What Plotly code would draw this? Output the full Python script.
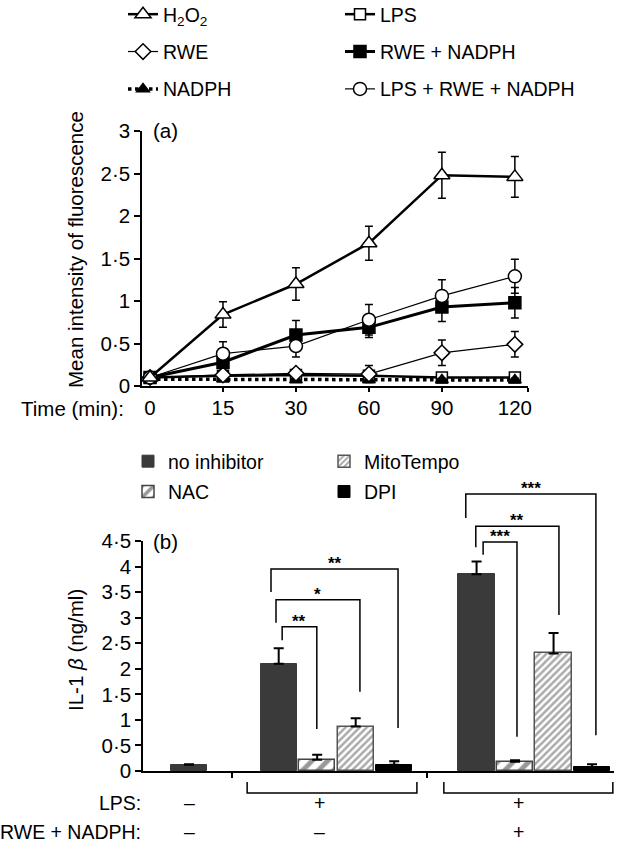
import plotly.graph_objects as go

W, H = 617, 842


def pxx(x):
    return x / W


def pxy(y):
    return 1 - y / H


# ---------------- Panel (a) data ----------------
time_labels = ["0", "15", "30", "60", "90", "120"]
h2o2 = [0.10, 0.84, 1.20, 1.68, 2.48, 2.46]
h2o2_err = [0.02, 0.15, 0.19, 0.20, 0.27, 0.24]
rwe = [0.10, 0.13, 0.15, 0.14, 0.39, 0.49]
rwe_err = [0.02, 0.05, 0.05, 0.10, 0.15, 0.15]
nadph = [0.08, 0.08, 0.07, 0.07, 0.07, 0.07]
nadph_err = [0.02, 0.02, 0.02, 0.02, 0.02, 0.02]
lps = [0.10, 0.12, 0.13, 0.12, 0.10, 0.10]
lps_err = [0.02, 0.03, 0.03, 0.03, 0.03, 0.03]
rwe_nadph = [0.10, 0.28, 0.60, 0.69, 0.93, 0.98]
rwe_nadph_err = [0.02, 0.07, 0.17, 0.12, 0.17, 0.18]
lps_rwe_nadph = [0.10, 0.38, 0.47, 0.78, 1.06, 1.29]
lps_rwe_nadph_err = [0.02, 0.14, 0.13, 0.18, 0.19, 0.20]
a_yticks = [0, 0.5, 1, 1.5, 2, 2.5, 3]
a_yticklabels = ["0", "0·5", "1", "1·5", "2", "2·5", "3"]

# ---------------- Panel (b) data ----------------
groups = ["control", "LPS", "LPS + RWE + NADPH"]
group_start = [0.0, 2.33, 7.47]
inhibitors = ["no inhibitor", "NAC", "MitoTempo", "DPI"]
il1b = {
    "no inhibitor": [0.12, 2.10, 3.85],
    "NAC": [None, 0.22, 0.18],
    "MitoTempo": [None, 0.87, 2.30],
    "DPI": [None, 0.12, 0.07],
}
il1b_err = {
    "no inhibitor": [0.01, 0.30, 0.25],
    "NAC": [None, 0.10, 0.03],
    "MitoTempo": [None, 0.16, 0.40],
    "DPI": [None, 0.07, 0.06],
}
b_yticks = [0, 0.5, 1, 1.5, 2, 2.5, 3, 3.5, 4, 4.5]
b_yticklabels = ["0", "0·5", "1", "1·5", "2", "2·5", "3", "3·5", "4", "4·5"]
lps_row = ["–", "+", "+"]
rwe_row = ["–", "–", "+"]
# significance: (label, x_left, x_right, y_bar, y_left_end, y_right_end)
sig = [
    ("**", 2.42, 3.32, 2.82, 2.56, 0.82),
    ("*", 2.26, 4.44, 3.35, 2.90, 1.55),
    ("**", 2.13, 5.43, 3.95, 3.50, 0.84),
    ("***", 7.64, 8.52, 4.48, 4.23, 0.67),
    ("**", 7.45, 9.61, 4.79, 4.38, 3.05),
    ("***", 7.19, 10.57, 5.42, 4.95, 0.70),
]

FONT = "Liberation Sans, Arial, Helvetica, sans-serif"
FS = 20.5
fig = go.Figure()

xa = list(range(len(time_labels)))

series_a = [
    # name, y, err, legend, rank, line width, dash, symbol, fill, size
    ("LPS", lps, lps_err, "legend2", 1, 2.5, "solid", "square", "white", 11),
    ("NADPH", nadph, nadph_err, "legend", 3, 3.5, "dot", "triangle-up", "black", 11),
    ("RWE", rwe, rwe_err, "legend", 2, 1.2, "solid", "diamond", "white", 12),
    ("RWE + NADPH", rwe_nadph, rwe_nadph_err, "legend2", 2, 3, "solid", "square", "black", 12),
    ("LPS + RWE + NADPH", lps_rwe_nadph, lps_rwe_nadph_err, "legend2", 3, 1.2, "solid", "circle", "white", 13),
    ("H<sub>2</sub>O<sub>2</sub>", h2o2, h2o2_err, "legend", 1, 2.5, "solid", "triangle-up", "white", 14),
]
for i, (name, y, err, leg, rank, lw, dash, sym, fill, size) in enumerate(series_a):
    fig.add_trace(go.Scatter(
        x=xa, y=y, name=name, mode="lines+markers",
        line=dict(color="black", width=lw, dash=dash),
        marker=dict(symbol=sym, color=fill, size=size, line=dict(color="black", width=1.5)),
        error_y=dict(type="data", array=err, color="black", thickness=1.5, width=4),
        legend=leg, legendrank=rank, legendgroup="a%d" % i,
        cliponaxis=False, xaxis="x", yaxis="y",
    ))

bar_style = {
    "no inhibitor": dict(color="#3a3a3a", line=dict(color="#3a3a3a", width=1)),
    "NAC": dict(color="white", line=dict(color="#444444", width=1.5),
                pattern=dict(shape="/", fgcolor="#333333", bgcolor="white", size=11, solidity=0.45)),
    "MitoTempo": dict(color="white", line=dict(color="#555555", width=1.5),
                      pattern=dict(shape="/", fgcolor="#555555", bgcolor="white", size=5, solidity=0.5)),
    "DPI": dict(color="black", line=dict(color="black", width=1)),
}
b_leg = {"no inhibitor": ("legend3", 1), "NAC": ("legend3", 2),
         "MitoTempo": ("legend4", 1), "DPI": ("legend4", 2)}
for k, inh in enumerate(inhibitors):
    xs, ys, es = [], [], []
    for g, start in enumerate(group_start):
        if il1b[inh][g] is not None:
            xs.append(start + k)
            ys.append(il1b[inh][g])
            es.append(il1b_err[inh][g])
    leg, rank = b_leg[inh]
    fig.add_trace(go.Bar(
        x=xs, y=ys, name=inh, width=0.94, marker=bar_style[inh],
        error_y=dict(type="data", array=es, arrayminus=[0] * len(es), symmetric=False,
                     color="black", thickness=2, width=5),
        legend=leg, legendrank=rank, legendgroup="b%d" % k,
        xaxis="x2", yaxis="y2",
    ))

# y-axis (b) data -> paper helper
B_DOM = [pxy(771), pxy(541)]
B_RANGE = [0, 4.5]


def by(v):
    return B_DOM[0] + (v - B_RANGE[0]) / (B_RANGE[1] - B_RANGE[0]) * (B_DOM[1] - B_DOM[0])


shapes = []
annotations = []
for lab, xl, xr, yb, yle, yre in sig:
    shapes.append(dict(type="path", xref="x2", yref="paper",
                       path="M %f,%f L %f,%f L %f,%f L %f,%f" % (xl, by(yle), xl, by(yb), xr, by(yb), xr, by(yre)),
                       line=dict(color="black", width=1.5)))
    annotations.append(dict(text="<b>%s</b>" % lab, xref="x2", yref="paper", x=(xl + xr) / 2, y=by(yb),
                            xanchor="center", yanchor="bottom", showarrow=False,
                            font=dict(size=17, family=FONT), yshift=-6))

# group brackets under axis (b)
for xl, xr in [(1.51, 5.92), (6.62, 11.01)]:
    shapes.append(dict(type="path", xref="x2", yref="paper",
                       path="M %f,%f L %f,%f L %f,%f L %f,%f" % (xl, pxy(782), xl, pxy(793), xr, pxy(793), xr, pxy(782)),
                       line=dict(color="black", width=1.5)))

FB = 19.5
sign_x = [0, 3.40, 8.55]
for g in range(len(groups)):
    annotations.append(dict(text=lps_row[g], xref="x2", yref="paper", x=sign_x[g], y=pxy(803),
                            showarrow=False, xanchor="center", yanchor="middle", font=dict(size=FB)))
    annotations.append(dict(text=rwe_row[g], xref="x2", yref="paper", x=sign_x[g], y=pxy(832),
                            showarrow=False, xanchor="center", yanchor="middle", font=dict(size=FB)))
annotations += [
    dict(text="LPS:", xref="paper", yref="paper", x=pxx(143), y=pxy(803), xanchor="right",
         yanchor="middle", showarrow=False, font=dict(size=FB)),
    dict(text="RWE + NADPH:", xref="paper", yref="paper", x=pxx(143), y=pxy(832), xanchor="right",
         yanchor="middle", showarrow=False, font=dict(size=FB)),
    dict(text="Time (min):", xref="paper", yref="paper", x=pxx(126), y=pxy(409), xanchor="right",
         yanchor="middle", showarrow=False),
    dict(text="Mean intensity of fluorescence", xref="paper", yref="paper", x=pxx(75), y=pxy(250),
         textangle=-90, xanchor="center", yanchor="middle", showarrow=False),
    dict(text="IL-1 <i>β</i> (ng/ml)", xref="paper", yref="paper", x=pxx(75), y=pxy(650),
         textangle=-90, xanchor="center", yanchor="middle", showarrow=False),
    dict(text="(a)", xref="paper", yref="paper", x=pxx(151), y=pxy(131), xanchor="left",
         yanchor="middle", showarrow=False),
    dict(text="(b)", xref="paper", yref="paper", x=pxx(151), y=pxy(541), xanchor="left",
         yanchor="middle", showarrow=False),
]

axis_common = dict(showline=True, linecolor="black", linewidth=1.5, showgrid=False, zeroline=False,
                   tickcolor="black", tickwidth=1.5, tickfont=dict(size=FS))
leg_common = dict(xanchor="left", yanchor="top", bgcolor="rgba(0,0,0,0)", font=dict(size=19.5),
                  orientation="v", traceorder="grouped")

fig.update_layout(
    width=W, height=H, margin=dict(l=0, r=0, t=0, b=0, autoexpand=False),
    paper_bgcolor="white", plot_bgcolor="white",
    font=dict(family=FONT, size=FS, color="black"),
    showlegend=True, bargap=0,
    xaxis=dict(domain=[pxx(142), pxx(528)], range=[-0.11, 5.18], anchor="y",
               tickmode="array", tickvals=xa, ticktext=time_labels, ticks="",
               minor=dict(tickmode="array", tickvals=[1, 2, 3, 4, 5.175], ticks="outside", ticklen=4,
                          tickcolor="black", tickwidth=1.5),
               ticklabelstandoff=3, **axis_common),
    yaxis=dict(domain=[pxy(386), pxy(131)], range=[0, 3], anchor="x",
               tickmode="array", tickvals=a_yticks, ticktext=a_yticklabels, ticks="outside", ticklen=6,
               **axis_common),
    xaxis2=dict(domain=[pxx(143), pxx(614)], range=[-1.195, 11.04], anchor="y2",
                tickmode="array", tickvals=[1.117, 6.18], showticklabels=False, ticks="outside", ticklen=5,
                **axis_common),
    yaxis2=dict(domain=B_DOM, range=B_RANGE, anchor="x2",
                tickmode="array", tickvals=b_yticks, ticktext=b_yticklabels, ticks="outside", ticklen=6,
                **axis_common),
    legend=dict(x=pxx(123), y=1.0 + 5 / H, tracegroupgap=9, **leg_common),
    legend2=dict(x=pxx(340), y=1.0 + 5 / H, tracegroupgap=9, **leg_common),
    legend3=dict(x=pxx(128), y=pxy(442), tracegroupgap=2, **leg_common),
    legend4=dict(x=pxx(324), y=pxy(442), tracegroupgap=2, **leg_common),
    shapes=shapes, annotations=annotations,
)

fig.write_html("out.html", post_script="document.body.style.margin='0';",
               config={"displayModeBar": False})
